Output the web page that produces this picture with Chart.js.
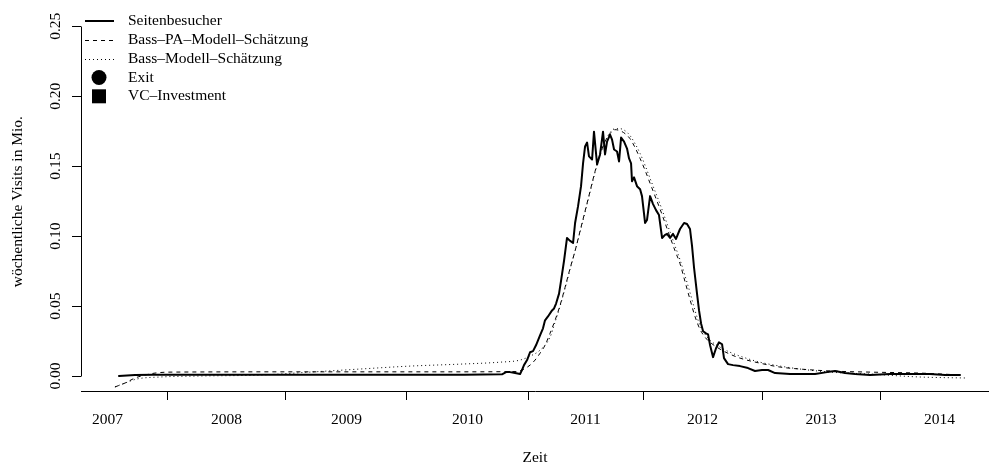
<!DOCTYPE html>
<html lang="de">
<head>
<meta charset="utf-8">
<title>Seitenbesucher und Bass-Modelle</title>
<script src="https://cdn.jsdelivr.net/npm/chart.js@4/dist/chart.umd.min.js"></script>
<style>
  html, body { margin: 0; padding: 0; background: #fff; overflow: hidden; }
  #wrap { width: 989px; height: 467px; }
</style>
</head>
<body>
<div id="wrap"><canvas id="c" width="989" height="467"></canvas></div>
<script>
// Zeitachse in Dezimaljahren, Werte in Mio. wöchentlicher Visits

// Beobachtete Seitenbesucher
const visitsX = [
  2007.596, 2007.731, 2007.882, 2008.500, 2009.500, 2010.500, 2010.819, 2010.853,
  2010.886, 2010.929, 2010.971, 2010.987, 2011.004, 2011.030, 2011.055, 2011.080,
  2011.105, 2011.139, 2011.164, 2011.181, 2011.206, 2011.240, 2011.257, 2011.274,
  2011.299, 2011.316, 2011.341, 2011.366, 2011.392, 2011.417, 2011.434, 2011.459,
  2011.484, 2011.501, 2011.518, 2011.535, 2011.551, 2011.577, 2011.593, 2011.619,
  2011.644, 2011.669, 2011.686, 2011.703, 2011.728, 2011.745, 2011.762, 2011.787,
  2011.804, 2011.821, 2011.846, 2011.871, 2011.888, 2011.905, 2011.913, 2011.930,
  2011.955, 2011.981, 2011.997, 2012.023, 2012.039, 2012.065, 2012.090, 2012.115,
  2012.140, 2012.166, 2012.191, 2012.208, 2012.233, 2012.258, 2012.283, 2012.317,
  2012.351, 2012.376, 2012.401, 2012.418, 2012.435, 2012.460, 2012.477, 2012.494,
  2012.511, 2012.536, 2012.553, 2012.570, 2012.595, 2012.620, 2012.645, 2012.671,
  2012.687, 2012.721, 2012.763, 2012.822, 2012.889, 2012.948, 2013.007, 2013.058,
  2013.117, 2013.243, 2013.453, 2013.554, 2013.622, 2013.706, 2013.790, 2013.916,
  2014.084, 2014.253, 2014.421, 2014.547, 2014.673
];
const visitsY = [
  0.0000, 0.0007, 0.0010, 0.0010, 0.0010, 0.0010, 0.0012, 0.0028,
  0.0028, 0.0021, 0.0014, 0.0043, 0.0078, 0.0114, 0.0170, 0.0178,
  0.0220, 0.0291, 0.0341, 0.0398, 0.0426, 0.0469, 0.0483, 0.0518,
  0.0589, 0.0682, 0.0824, 0.0987, 0.0966, 0.0952, 0.1094, 0.1214,
  0.1357, 0.1520, 0.1641, 0.1669, 0.1570, 0.1548, 0.1747, 0.1513,
  0.1584, 0.1747, 0.1584, 0.1676, 0.1726, 0.1690, 0.1619, 0.1605,
  0.1534, 0.1705, 0.1676, 0.1626, 0.1555, 0.1520, 0.1392, 0.1420,
  0.1357, 0.1335, 0.1286, 0.1094, 0.1115, 0.1286, 0.1229, 0.1186,
  0.1151, 0.0987, 0.1009, 0.1016, 0.0987, 0.1016, 0.0980, 0.1051,
  0.1094, 0.1087, 0.1051, 0.0930, 0.0774, 0.0589, 0.0469, 0.0376,
  0.0320, 0.0305, 0.0298, 0.0220, 0.0135, 0.0199, 0.0241, 0.0227,
  0.0128, 0.0085, 0.0078, 0.0071, 0.0057, 0.0036, 0.0043, 0.0043,
  0.0021, 0.0014, 0.0014, 0.0028, 0.0036, 0.0021, 0.0014, 0.0007,
  0.0014, 0.0014, 0.0014, 0.0007, 0.0007
];

// Schätzung Bass-PA-Modell
const bassPaX = [
  2007.562, 2007.647, 2007.731, 2007.815, 2007.899, 2008.025, 2009.119, 2010.382,
  2010.929, 2010.987, 2011.055, 2011.097, 2011.139, 2011.181, 2011.223, 2011.265,
  2011.307, 2011.349, 2011.391, 2011.434, 2011.476, 2011.518, 2011.560, 2011.602,
  2011.644, 2011.686, 2011.728, 2011.770, 2011.812, 2011.854, 2011.896, 2011.938,
  2011.981, 2012.023, 2012.065, 2012.107, 2012.149, 2012.191, 2012.233, 2012.275,
  2012.317, 2012.359, 2012.401, 2012.443, 2012.485, 2012.528, 2012.570, 2012.654,
  2012.738, 2012.822, 2012.990, 2013.159, 2013.327, 2013.580, 2013.916, 2014.337,
  2014.690
];
const bassPaY = [
  -0.0078, -0.0050, -0.0014, 0.0007, 0.0021, 0.0028, 0.0030, 0.0030,
  0.0032, 0.0043, 0.0078, 0.0114, 0.0163, 0.0220, 0.0305, 0.0398,
  0.0504, 0.0632, 0.0767, 0.0895, 0.1037, 0.1179, 0.1321, 0.1463,
  0.1584, 0.1676, 0.1733, 0.1761, 0.1754, 0.1733, 0.1697, 0.1634,
  0.1555, 0.1470, 0.1378, 0.1286, 0.1193, 0.1094, 0.0994, 0.0895,
  0.0803, 0.0675, 0.0547, 0.0426, 0.0334, 0.0277, 0.0241, 0.0192,
  0.0156, 0.0128, 0.0092, 0.0064, 0.0050, 0.0036, 0.0028, 0.0021,
  0.0007
];

// Schätzung Bass-Modell
const bassX = [
  2007.562, 2007.647, 2007.748, 2007.941, 2008.278, 2008.783, 2009.203, 2009.624,
  2010.045, 2010.466, 2010.802, 2010.971, 2011.055, 2011.139, 2011.223, 2011.265,
  2011.307, 2011.349, 2011.391, 2011.434, 2011.476, 2011.518, 2011.560, 2011.602,
  2011.644, 2011.686, 2011.728, 2011.770, 2011.812, 2011.854, 2011.896, 2011.938,
  2011.981, 2012.023, 2012.065, 2012.107, 2012.149, 2012.191, 2012.233, 2012.275,
  2012.317, 2012.359, 2012.401, 2012.443, 2012.485, 2012.528, 2012.570, 2012.654,
  2012.738, 2012.822, 2012.990, 2013.159, 2013.327, 2013.580, 2013.916, 2014.337,
  2014.716
];
const bassY = [
  -0.0078, -0.0050, -0.0021, -0.0007, 0.0000, 0.0007, 0.0028, 0.0050,
  0.0071, 0.0085, 0.0099, 0.0114, 0.0142, 0.0185, 0.0277, 0.0384,
  0.0497, 0.0625, 0.0760, 0.0895, 0.1030, 0.1172, 0.1314, 0.1456,
  0.1577, 0.1676, 0.1740, 0.1768, 0.1768, 0.1754, 0.1719, 0.1662,
  0.1591, 0.1506, 0.1413, 0.1321, 0.1229, 0.1129, 0.1030, 0.0930,
  0.0831, 0.0717, 0.0597, 0.0469, 0.0362, 0.0298, 0.0256, 0.0206,
  0.0170, 0.0142, 0.0099, 0.0071, 0.0050, 0.0028, 0.0014, -0.0007,
  -0.0014
];

// Achsenbeschriftung: Jahreslabels und Lage der Jahreswechsel auf der Zeitachse
const years = [2007, 2008, 2009, 2010, 2011, 2012, 2013, 2014];
const yearStarts = [2008.000, 2009.001, 2010.019, 2011.038, 2012.006, 2013.007, 2014.000];
const yTicks = [0, 0.05, 0.10, 0.15, 0.20, 0.25];

const FONT = '"Liberation Serif", "Times New Roman", serif';
const FONT_SIZE = 15.5;
Chart.defaults.font.family = FONT;
Chart.defaults.font.size = FONT_SIZE;
Chart.defaults.color = '#000';

const toPoints = (xs, ys) => xs.map((x, i) => ({ x, y: ys[i] }));

// Jahreslabel jeweils mittig zwischen zwei Jahreswechseln
const yearLabelPos = years.map((y, i) => {
  const start = i === 0 ? yearStarts[0] - 1 : yearStarts[i - 1];
  const end = i < yearStarts.length ? yearStarts[i] : yearStarts[i - 1] + 1;
  return (start + end) / 2;
});
const isYearStart = v => yearStarts.some(s => Math.abs(s - v) < 1e-6);
const labelFor = v => {
  const i = yearLabelPos.findIndex(p => Math.abs(p - v) < 1e-6);
  return i < 0 ? '' : String(years[i]);
};

// Linke Achsenlinie im R-Stil: nur vom ersten bis zum letzten Tick
const yAxisLine = {
  id: 'yAxisLine',
  afterDraw(chart) {
    const { ctx, chartArea, scales } = chart;
    const x = Math.floor(chartArea.left) + 0.5;
    ctx.save();
    ctx.strokeStyle = '#000';
    ctx.lineWidth = 1;
    ctx.beginPath();
    ctx.moveTo(x, Math.round(scales.y.getPixelForValue(yTicks[0])) + 0.5);
    ctx.lineTo(x, Math.round(scales.y.getPixelForValue(yTicks[yTicks.length - 1])) + 0.5);
    ctx.stroke();
    ctx.restore();
  }
};

// Legende oben links innerhalb der Zeichenfläche
const cornerLegend = {
  id: 'cornerLegend',
  afterDraw(chart) {
    const { ctx, chartArea } = chart;
    const x0 = chartArea.left + 4;
    const y0 = chartArea.top + 9;
    const rowH = 18.75;
    ctx.save();
    ctx.font = FONT_SIZE + 'px ' + FONT;
    ctx.textBaseline = 'middle';
    ctx.textAlign = 'left';
    chart.data.datasets.forEach((ds, i) => {
      const y = y0 + i * rowH;
      ctx.fillStyle = '#000';
      ctx.strokeStyle = ds.borderColor;
      if (ds.showLine === false) {
        const cx = x0 + 14;
        ctx.beginPath();
        if (ds.pointStyle === 'circle') {
          ctx.arc(cx, y, 7.5, 0, Math.PI * 2);
        } else {
          ctx.rect(cx - 7, y - 7, 14, 14);
        }
        ctx.fill();
      } else {
        const yy = Math.round(y) + (ds.borderWidth % 2 ? 0.5 : 0);
        ctx.lineWidth = ds.borderWidth;
        ctx.setLineDash(ds.borderDash || []);
        ctx.beginPath();
        ctx.moveTo(x0, yy);
        ctx.lineTo(x0 + 29, yy);
        ctx.stroke();
        ctx.setLineDash([]);
      }
      ctx.fillStyle = '#000';
      ctx.fillText(ds.label, chartArea.left + 47, y);
    });
    ctx.restore();
  }
};

new Chart(document.getElementById('c'), {
  type: 'line',
  data: {
    datasets: [
      {
        label: 'Seitenbesucher',
        data: toPoints(visitsX, visitsY),
        borderColor: '#000',
        borderWidth: 2,
        borderJoinStyle: 'round',
        borderCapStyle: 'round',
        pointRadius: 0,
        tension: 0
      },
      {
        label: 'Bass–PA–Modell–Schätzung',
        data: toPoints(bassPaX, bassPaY),
        borderColor: '#000',
        borderWidth: 1,
        borderDash: [4, 4],
        pointRadius: 0,
        cubicInterpolationMode: 'monotone'
      },
      {
        label: 'Bass–Modell–Schätzung',
        data: toPoints(bassX, bassY),
        borderColor: '#000',
        borderWidth: 1,
        borderDash: [1, 3],
        pointRadius: 0,
        cubicInterpolationMode: 'monotone'
      },
      {
        label: 'Exit',
        data: [],
        showLine: false,
        pointStyle: 'circle',
        borderColor: '#000',
        backgroundColor: '#000'
      },
      {
        label: 'VC–Investment',
        data: [],
        showLine: false,
        pointStyle: 'rect',
        borderColor: '#000',
        backgroundColor: '#000'
      }
    ]
  },
  options: {
    responsive: false,
    animation: false,
    layout: { padding: { top: 10, left: 0, right: 0, bottom: 0 } },
    plugins: {
      legend: { display: false },
      tooltip: { enabled: false }
    },
    scales: {
      x: {
        type: 'linear',
        position: 'bottom',
        min: 2007.2763,
        max: 2014.917,
        afterFit: s => { s.height = 76; },
        afterBuildTicks: s => {
          const t = yearStarts.concat(yearLabelPos).sort((a, b) => a - b);
          s.ticks = t.map(v => ({ value: v }));
        },
        grid: {
          drawOnChartArea: false,
          drawTicks: true,
          tickLength: 9,
          tickColor: c => (c.tick && isYearStart(c.tick.value)) ? '#000' : 'rgba(0,0,0,0)'
        },
        border: { display: true, color: '#000', width: 1 },
        ticks: {
          autoSkip: false,
          minRotation: 0,
          maxRotation: 0,
          padding: 11,
          color: '#000',
          callback: v => labelFor(v)
        },
        title: {
          display: true,
          text: 'Zeit',
          color: '#000',
          padding: { top: 0, bottom: 0 }
        }
      },
      y: {
        type: 'linear',
        position: 'left',
        min: -0.0107,
        max: 0.26,
        afterFit: s => { s.width = 81; },
        afterBuildTicks: s => { s.ticks = yTicks.map(v => ({ value: v })); },
        grid: {
          drawOnChartArea: false,
          drawTicks: true,
          tickLength: 9,
          tickColor: '#000'
        },
        border: { display: false },
        ticks: {
          minRotation: 90,
          maxRotation: 90,
          crossAlign: 'center',
          padding: 3,
          color: '#000',
          callback: v => v.toFixed(2)
        },
        title: {
          display: true,
          text: 'wöchentliche Visits in Mio.',
          color: '#000',
          padding: { top: 9, bottom: 0 }
        }
      }
    }
  },
  plugins: [yAxisLine, cornerLegend]
});
</script>
</body>
</html>
